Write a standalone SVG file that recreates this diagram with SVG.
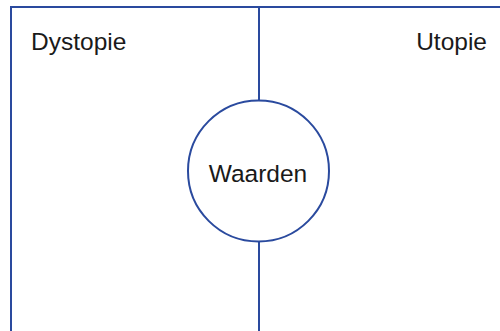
<svg xmlns="http://www.w3.org/2000/svg" width="500" height="331" viewBox="0 0 500 331">
  <style>
    .ln { stroke: #2a4a9e; stroke-width: 2; fill: none; }
    .lbl { font-family: "Liberation Sans", Arial, sans-serif; font-size: 24.5px; fill: #1a1a1a; }
  </style>
  <rect width="500" height="331" fill="#ffffff"/>
  <g id="connectors">
    <path class="ln" d="M11,331 V7 H500"/>
    <line class="ln" x1="259" y1="7" x2="259" y2="100.5"/>
    <line class="ln" x1="259" y1="241.5" x2="259" y2="331"/>
  </g>
  <g id="dystopie">
    <text class="lbl" x="31" y="50">Dystopie</text>
  </g>
  <g id="utopie">
    <text class="lbl" x="487" y="50" text-anchor="end">Utopie</text>
  </g>
  <g id="waarden">
    <circle class="ln" cx="258.5" cy="171" r="70.5" fill="#ffffff"/>
    <text class="lbl" x="258" y="182" text-anchor="middle">Waarden</text>
  </g>
</svg>
